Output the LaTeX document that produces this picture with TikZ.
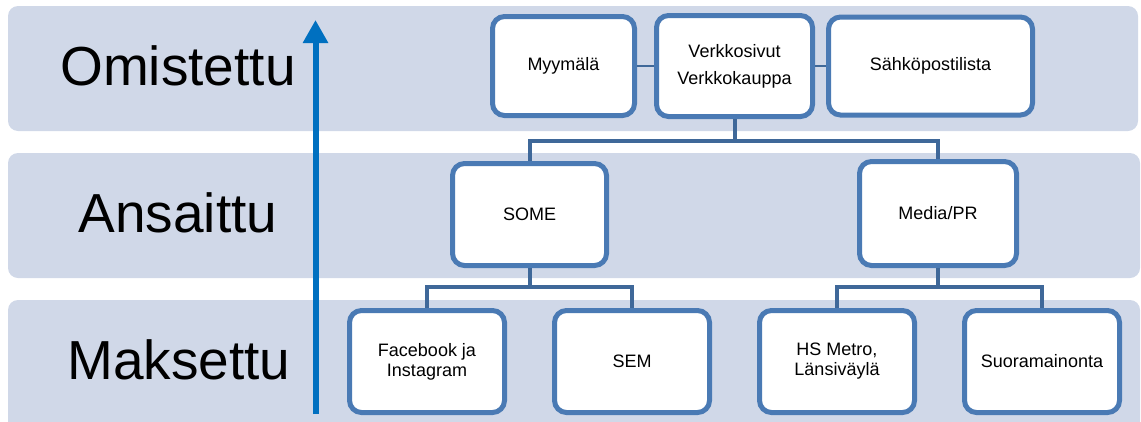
\documentclass[tikz,border=0pt]{standalone}
\usepackage{fontspec}
\setmainfont{Liberation Sans}
\usepackage{xcolor}
\definecolor{bandFill}{RGB}{208,216,232}
\definecolor{boxBorder}{RGB}{74,122,180}
\colorlet{linkColor}{boxBorder!85!black}
\definecolor{axisBlue}{RGB}{0,112,192}
\usetikzlibrary{arrows.meta, positioning}
\tikzset{
  band/.style={fill=bandFill, rounded corners=10pt},
  level/.style={font=\fontsize{55}{60}\selectfont},
  box/.style={draw=boxBorder, line width=5pt, fill=white, rounded corners=12pt,
    align=center, inner sep=0pt, font=\fontsize{18}{20}\selectfont},
  leaf/.style={box, minimum width=155pt, minimum height=102pt},
  link/.style={draw=linkColor, line width=4pt},
}

\begin{document}
\begin{tikzpicture}[x=1pt, y=-1pt, node distance=45pt]
\useasboundingbox (0,0) rectangle (1141,421);
\clip (0,0) rectangle (1141,421);
% the three levels
\fill[band] (8,6) rectangle (1138,131);
\fill[band] (8,153) rectangle (1140,278);
\fill[band] (8,300) rectangle (1140,440);
\node[level] (omistettu) at (178,66) {Omistettu};
\node[level] (ansaittu) at (178,213) {Ansaittu};
\node[level] (maksettu) at (179,360) {Maksettu};
% upward axis
\coordinate (axisLow) at (315.5,414);
\coordinate (axisHigh) at (315.5,20);
\draw[axisBlue, line width=6pt, -{Triangle[width=24pt, length=23pt]}] (axisLow) -- (axisHigh);
% top row
\node[box, minimum width=156pt, minimum height=101pt] (verk) at (734.5,66) {Verkkosivut\\[7pt]Verkkokauppa};
\node[box, minimum width=142pt, minimum height=99pt, left=17pt of verk] (myy) {Myymälä};
\node[box, minimum width=204pt, minimum height=98pt, right=11pt of verk] (sahko) {Sähköpostilista};
% middle row
\node[box, minimum width=154pt, minimum height=102pt] (some) at (529.5,214.5) {SOME};
\node[box, minimum width=157pt, minimum height=104pt] (media) at (938,213.5) {Media/PR};
% bottom row
\node[leaf] (fb) at (427,361.5) {Facebook ja\\Instagram};
\node[leaf, right=of fb] (sem) {SEM};
\node[leaf, right=of sem] (hs) {HS Metro,\\Länsiväylä};
\node[leaf, right=of hs] (suora) {Suoramainonta};
% connectors
\draw[link, line width=2pt] (myy.east) -- (verk.west);
\draw[link, line width=2pt] (verk.east) -- (sahko.west);
\draw[link] (verk.south) -- ++(0,22) -| (some.north);
\draw[link] (verk.south) -- ++(0,22) -| (media.north);
\draw[link] (some.south) -- ++(0,19) -| (fb.north);
\draw[link] (some.south) -- ++(0,19) -| (sem.north);
\draw[link] (media.south) -- ++(0,19) -| (hs.north);
\draw[link] (media.south) -- ++(0,19) -| (suora.north);
\end{tikzpicture}
\end{document}
